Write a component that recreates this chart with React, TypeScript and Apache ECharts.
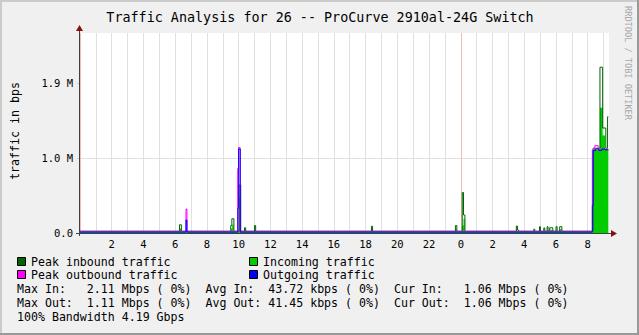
import React, { useEffect, useRef } from 'react';
import * as echarts from 'echarts';

const TITLE = 'Traffic Analysis for 26 -- ProCurve 2910al-24G Switch';
const Y_AXIS_TITLE = 'traffic in bps';
const CREDIT = 'RRDTOOL / TOBI OETIKER';

const HOURS_SPAN = 33.34;
const Y_MAX = 2666667;
const Y_GRID_STEP = 200000;
const xLabelHours = [2, 4, 6, 8, 10, 12, 14, 16, 18, 20, 22, 24, 26, 28, 30, 32];
const yLabelValues = [0, 1000000, 2000000];
const yLabelTexts = ['0.0', '1.0 M', '1.9 M'];

// step breakpoints: [hours since start, bits per second]
const peakInbound: [number, number][] = [
  [0, 25000],
  [6.27, 110000], [6.39, 25000],
  [9.5, 100000], [9.57, 190000], [9.7, 25000],
  [10.03, 640000], [10.13, 25000],
  [10.37, 70000], [10.44, 25000],
  [11.0, 100000], [11.07, 25000],
  [18.37, 90000], [18.44, 25000],
  [23.66, 100000], [23.75, 25000],
  [24.09, 540000], [24.17, 240000], [24.26, 25000],
  [27.5, 93000], [27.57, 40000], [27.64, 25000],
  [28.6, 50000], [28.66, 25000],
  [28.96, 84000], [29.02, 25000],
  [29.23, 67000], [29.29, 25000],
  [29.44, 84000], [29.5, 25000],
  [29.6, 70000], [29.8, 25000],
  [30.0, 84000], [30.07, 25000],
  [30.23, 84000], [30.37, 25000],
  [32.34, 1130000], [32.77, 2210000], [32.94, 1400000], [33.14, 1130000],
  [33.25, 1550000], [33.3, 1550000],
];

const incoming: [number, number][] = [
  [0, 15000],
  [6.3, 60000], [6.37, 15000],
  [9.52, 60000], [9.59, 110000], [9.68, 15000],
  [10.03, 480000], [10.13, 15000],
  [10.38, 40000], [10.43, 15000],
  [11.01, 50000], [11.06, 15000],
  [18.38, 40000], [18.43, 15000],
  [23.67, 50000], [23.74, 15000],
  [24.09, 100000], [24.17, 190000], [24.25, 15000],
  [27.51, 50000], [27.56, 15000],
  [28.61, 30000], [28.65, 15000],
  [28.97, 45000], [29.01, 15000],
  [29.24, 45000], [29.28, 15000],
  [29.45, 45000], [29.49, 15000],
  [29.61, 45000], [29.79, 15000],
  [30.01, 45000], [30.06, 15000],
  [30.24, 50000], [30.36, 15000],
  [32.34, 1110000], [32.77, 1670000], [32.94, 1300000], [33.1, 1110000],
  [33.3, 1110000],
];

const peakOutbound: [number, number][] = [
  [0, 18000],
  [6.68, 320000], [6.74, 18000],
  [9.94, 860000], [9.99, 1140000], [10.09, 18000],
  [32.29, 1110000], [32.45, 1165000], [32.66, 1110000], [33.3, 1110000],
];

const outgoing: [number, number][] = [
  [0, 12000],
  [6.68, 173000], [6.74, 12000],
  [9.95, 330000], [10.0, 1120000], [10.1, 12000],
  [32.29, 370000], [32.34, 1100000], [32.5, 1120000], [32.7, 1100000],
  [32.9, 1120000], [33.1, 1110000], [33.3, 1110000],
];

const legendNames = ['Peak inbound traffic', 'Incoming traffic', 'Peak outbound traffic', 'Outgoing traffic'];
const legendColors = ['#006600', '#00cc00', '#ff00ff', '#0000ff'];

const statsIn = ['Max In:', '2.11 Mbps ( 0%)', 'Avg In:', '43.72 kbps ( 0%)', 'Cur In:', '1.06 Mbps ( 0%)'];
const statsOut = ['Max Out:', '1.11 Mbps ( 0%)', 'Avg Out:', '41.45 kbps ( 0%)', 'Cur Out:', '1.06 Mbps ( 0%)'];
const statsColumns = [0, 10, 27, 36, 54, 64];
const bandwidthLine = '100% Bandwidth 4.19 Gbps';

const MONO = '"DejaVu Sans Mono", "Liberation Mono", monospace';
const GRID = 'rgb(224,224,224)';
const MGRID = 'rgb(242,186,186)';
const AXIS = '#404040';
const ARROW = '#8a1010';

export default function App() {
  const ref = useRef<HTMLDivElement>(null);

  useEffect(() => {
    document.body.style.margin = '0';
    const chart = echarts.init(ref.current!, undefined, { renderer: 'svg' });

    const charW = 6.98;
    const textX = 17;
    const txt = (text: string, x: number, y: number, size: number, extra: any = {}) => ({
      type: 'text',
      x,
      y,
      z: 20,
      silent: true,
      ...extra,
      style: {
        text,
        fill: extra.fill || '#000',
        fontSize: size,
        fontFamily: MONO,
        align: extra.align || 'left',
        verticalAlign: 'middle',
      },
    });

    const graphics: any[] = [
      { type: 'rect', shape: { x: 0, y: 0, width: 639, height: 2 }, style: { fill: '#cbcbcb' }, silent: true },
      { type: 'rect', shape: { x: 0, y: 0, width: 2, height: 335 }, style: { fill: '#cbcbcb' }, silent: true },
      { type: 'rect', shape: { x: 0, y: 333, width: 639, height: 2 }, style: { fill: '#999999' }, silent: true },
      { type: 'rect', shape: { x: 637, y: 0, width: 2, height: 335 }, style: { fill: '#999999' }, silent: true },
      txt(TITLE, 320, 17, 13.4, { align: 'center' }),
      { ...txt(Y_AXIS_TITLE, 15, 131, 11.6, { align: 'center' }), rotation: Math.PI / 2 },
      { ...txt(CREDIT, 628, 63, 8.6, { align: 'center', fill: '#a8a8a8' }), rotation: -Math.PI / 2 },
      { type: 'line', z: 15, silent: true, shape: { x1: 76, y1: 233.5, x2: 613, y2: 233.5 }, style: { stroke: AXIS, lineWidth: 1 } },
      { type: 'line', z: 15, silent: true, shape: { x1: 79.5, y1: 236, x2: 79.5, y2: 29 }, style: { stroke: AXIS, lineWidth: 1 } },
      { type: 'polygon', z: 16, silent: true, shape: { points: [[611, 230], [617, 233.5], [611, 237]] }, style: { fill: ARROW } },
      { type: 'polygon', z: 16, silent: true, shape: { points: [[76, 31], [79.5, 25], [83, 31]] }, style: { fill: ARROW } },
    ];

    const legendPos = [
      [17, 262], [249, 262], [17, 275], [249, 275],
    ];
    legendNames.forEach((name, i) => {
      const [lx, ly] = legendPos[i];
      graphics.push({
        type: 'rect', z: 20, silent: true,
        shape: { x: lx + 0.5, y: ly - 4.5, width: 8, height: 8 },
        style: { fill: legendColors[i], stroke: '#000', lineWidth: 1 },
      });
      graphics.push(txt(name, lx + 14, ly, 11.6));
    });

    [statsIn, statsOut].forEach((row, r) => {
      row.forEach((s, c) => {
        graphics.push(txt(s, textX + statsColumns[c] * charW, 289 + r * 14, 11.6));
      });
    });
    graphics.push(txt(bandwidthLine, textX, 317, 11.6));

    const yColors = [MGRID, GRID, GRID, GRID, GRID];
    const xColors = [MGRID, ...Array(23).fill(GRID)];

    const mkLine = (name: string, data: [number, number][], color: string, z: number) => ({
      type: 'line',
      name,
      data,
      step: 'end',
      symbol: 'none',
      showSymbol: false,
      silent: true,
      z,
      lineStyle: { color, width: 1 },
      itemStyle: { color },
    });

    chart.setOption({
      animation: false,
      backgroundColor: 'transparent',
      grid: {
        left: 80, right: 30, top: 33, bottom: 102,
        show: true, backgroundColor: '#ffffff', borderWidth: 0,
      },
      xAxis: {
        type: 'value',
        min: 0,
        max: HOURS_SPAN,
        interval: 1,
        axisLine: { show: false },
        axisTick: { show: false },
        splitLine: { show: true, showMaxLine: false, lineStyle: { color: xColors, width: 1 } },
        axisLabel: {
          customValues: xLabelHours,
          formatter: (v: number) => String(Math.round(v) % 24),
          fontFamily: MONO,
          fontSize: 10.5,
          color: '#000',
          margin: 5,
        },
      },
      yAxis: {
        type: 'value',
        min: 0,
        max: Y_MAX,
        interval: Y_GRID_STEP,
        axisLine: { show: false },
        axisTick: { show: true, customValues: yLabelValues, length: 3, lineStyle: { color: MGRID } },
        splitLine: { show: true, showMaxLine: false, lineStyle: { color: yColors, width: 1 } },
        axisLabel: {
          customValues: yLabelValues,
          formatter: (v: number) => {
            const i = yLabelValues.indexOf(Math.round(v));
            return i >= 0 ? yLabelTexts[i] : '';
          },
          fontFamily: MONO,
          fontSize: 10.5,
          color: '#000',
          margin: 7,
        },
      },
      series: [
        {
          ...mkLine('Incoming traffic', incoming, '#00cc00', 2),
          lineStyle: { width: 0, color: '#00cc00' },
          areaStyle: { color: '#00cc00', opacity: 1 },
        },
        mkLine('Peak inbound traffic', peakInbound, '#006600', 3),
        mkLine('Peak outbound traffic', peakOutbound, '#ff00ff', 4),
        mkLine('Outgoing traffic', outgoing, '#0000ff', 5),
      ],
      graphic: { elements: graphics },
    });

    return () => chart.dispose();
  }, []);

  return (
    <div
      ref={ref}
      style={{ position: 'absolute', left: 0, top: 0, width: 639, height: 335, background: '#f0f0f0' }}
    />
  );
}
